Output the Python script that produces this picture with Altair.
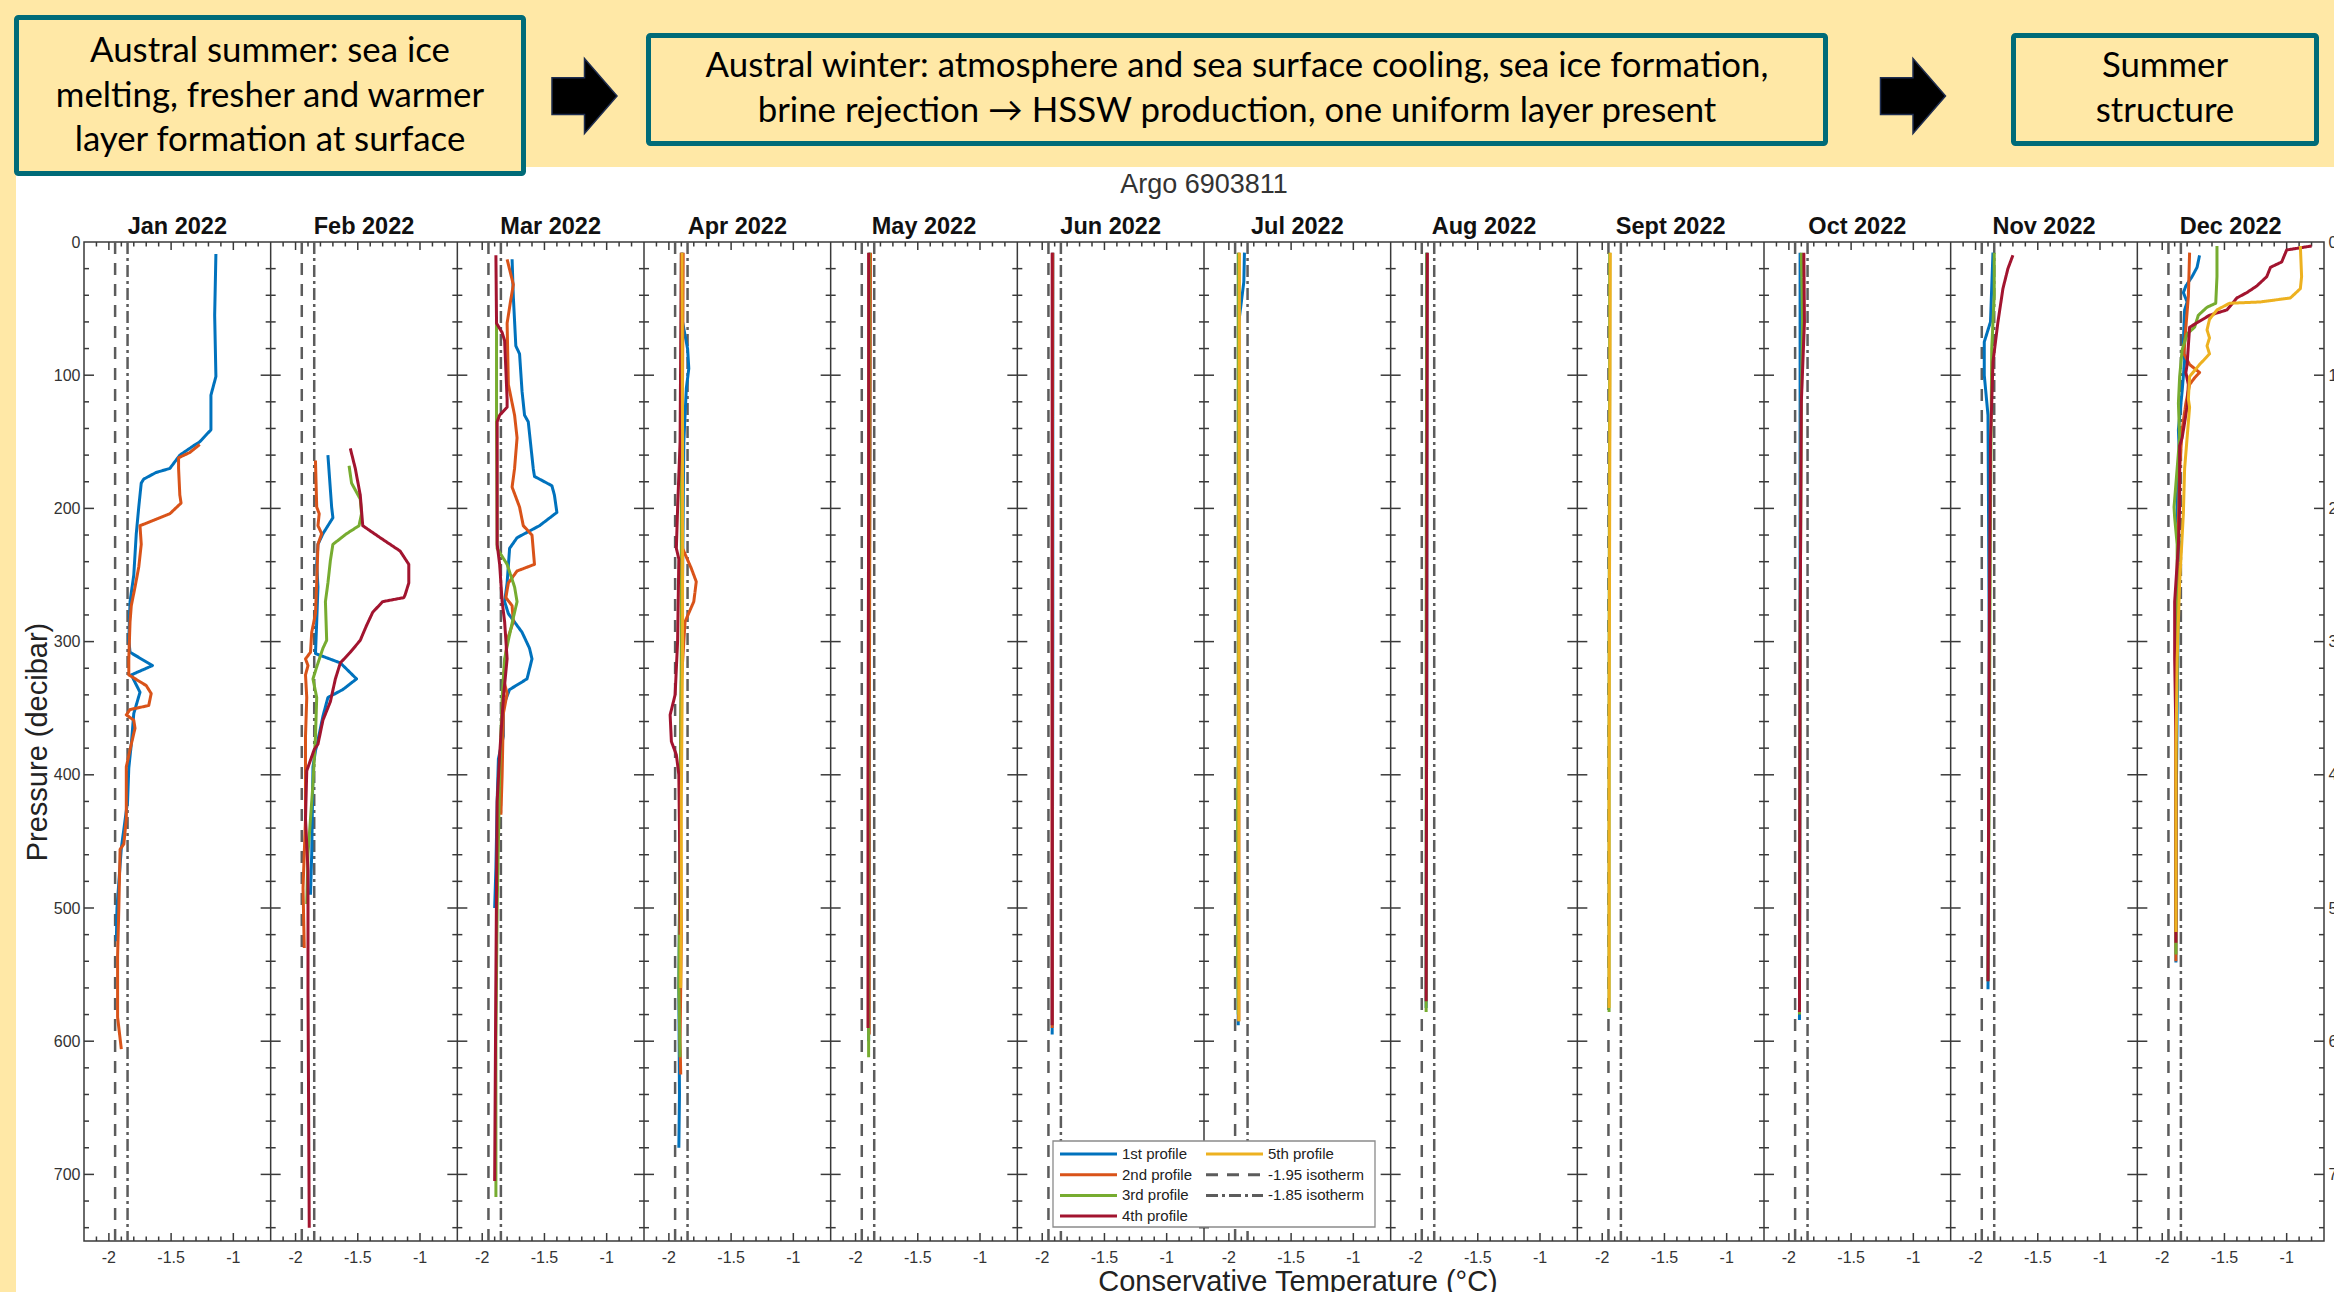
import altair as alt
import pandas as pd

# ---------------------------------------------------------------- data
MONTHS = ["Jan 2022", "Feb 2022", "Mar 2022", "Apr 2022", "May 2022", "Jun 2022",
          "Jul 2022", "Aug 2022", "Sept 2022", "Oct 2022", "Nov 2022", "Dec 2022"]
SERIES = ["1st profile", "2nd profile", "3rd profile", "4th profile", "5th profile",
          "-1.95 isotherm", "-1.85 isotherm"]
SERIES_COLORS = ["#0072BD", "#D95319", "#77AC30", "#A2142F", "#EDB120", "#5c5c5c", "#5c5c5c"]
SERIES_DASH = [[1, 0], [1, 0], [1, 0], [1, 0], [1, 0], [12, 9], [12, 4, 3, 4]]
ISOTHERM_T = [-1.95, -1.85]
T_RANGE = [-2.2, -0.7]
P_RANGE = [0, 750]
X_LABEL_T = [-2.0, -1.5, -1.0]
X_LABEL_TEXT = ["-2", "-1.5", "-1"]
X_MINOR_T = [-2.1, -1.9, -1.8, -1.7, -1.6, -1.4, -1.3, -1.2, -1.1, -0.9, -0.8]
Y_LABEL_P = [0, 100, 200, 300, 400, 500, 600, 700]
Y_MAJOR_P = [100, 200, 300, 400, 500, 600, 700]
Y_MINOR_P = [p for p in range(20, 750, 20) if p % 100 != 0]

# profiles: lists of (conservative temperature, pressure)
jan_1 = [(-1.14, 9), (-1.15, 55), (-1.14, 101), (-1.18, 115), (-1.18, 132), (-1.18, 141), (-1.27, 150),
         (-1.32, 153), (-1.43, 160), (-1.51, 170), (-1.62, 173), (-1.72, 178), (-1.74, 181), (-1.76, 199),
         (-1.78, 219), (-1.80, 250), (-1.83, 270), (-1.84, 299), (-1.83, 308), (-1.65, 318), (-1.82, 325),
         (-1.75, 338), (-1.80, 354), (-1.82, 377), (-1.84, 395), (-1.85, 420), (-1.90, 455), (-1.935, 500),
         (-1.94, 525)]
jan_2 = [(-1.27, 152), (-1.35, 158), (-1.44, 162), (-1.44, 170), (-1.43, 190), (-1.42, 196), (-1.51, 204),
         (-1.75, 213), (-1.74, 227), (-1.76, 244), (-1.79, 259), (-1.82, 273), (-1.83, 285), (-1.84, 313),
         (-1.84, 325), (-1.70, 333), (-1.66, 339), (-1.68, 348), (-1.83, 351), (-1.86, 355), (-1.80, 359),
         (-1.79, 365), (-1.82, 377), (-1.86, 394), (-1.86, 433), (-1.88, 452), (-1.91, 456), (-1.92, 500),
         (-1.93, 536), (-1.93, 582), (-1.90, 606)]
feb_1 = [(-1.74, 160), (-1.71, 199), (-1.70, 207), (-1.78, 219), (-1.82, 227), (-1.83, 242), (-1.82, 259),
         (-1.83, 285), (-1.84, 309), (-1.64, 316), (-1.51, 328), (-1.62, 336), (-1.74, 342), (-1.78, 356),
         (-1.82, 374), (-1.84, 382), (-1.86, 394), (-1.87, 459), (-1.88, 490)]
feb_2 = [(-1.84, 164), (-1.83, 199), (-1.81, 204), (-1.82, 213), (-1.79, 219), (-1.82, 227), (-1.83, 256),
         (-1.84, 279), (-1.87, 293), (-1.88, 308), (-1.92, 313), (-1.90, 318), (-1.92, 325), (-1.91, 342),
         (-1.92, 371), (-1.92, 389), (-1.92, 433), (-1.94, 485), (-1.93, 530)]
feb_3 = [(-1.57, 168), (-1.55, 181), (-1.48, 193), (-1.47, 204), (-1.49, 213), (-1.59, 219), (-1.70, 227),
         (-1.72, 239), (-1.74, 256), (-1.76, 270), (-1.75, 299), (-1.78, 305), (-1.83, 319), (-1.86, 328),
         (-1.83, 342), (-1.84, 371), (-1.86, 407), (-1.90, 459), (-1.91, 497)]
feb_4 = [(-1.56, 155), (-1.52, 170), (-1.48, 190), (-1.46, 213), (-1.32, 222), (-1.16, 232), (-1.09, 242),
         (-1.09, 256), (-1.12, 265), (-1.13, 267), (-1.30, 270), (-1.38, 278), (-1.43, 288), (-1.48, 299),
         (-1.56, 308), (-1.64, 316), (-1.68, 328), (-1.72, 345), (-1.78, 359), (-1.82, 377), (-1.85, 381),
         (-1.91, 397), (-1.92, 433), (-1.90, 472), (-1.90, 562), (-1.89, 740)]
mar_1 = [(-1.76, 13), (-1.75, 41), (-1.73, 78), (-1.70, 84), (-1.68, 112), (-1.66, 130), (-1.63, 135),
         (-1.59, 170), (-1.58, 176), (-1.44, 183), (-1.42, 190), (-1.40, 203), (-1.54, 213), (-1.72, 222),
         (-1.78, 230), (-1.80, 256), (-1.82, 270), (-1.79, 279), (-1.68, 293), (-1.62, 305), (-1.60, 313),
         (-1.64, 328), (-1.78, 336), (-1.83, 348), (-1.83, 371), (-1.87, 388), (-1.88, 420), (-1.89, 470),
         (-1.90, 500)]
mar_2 = [(-1.80, 13), (-1.75, 32), (-1.77, 43), (-1.80, 61), (-1.79, 107), (-1.74, 130), (-1.72, 147),
         (-1.74, 170), (-1.76, 184), (-1.70, 199), (-1.67, 213), (-1.60, 220), (-1.58, 242), (-1.72, 247),
         (-1.79, 256), (-1.81, 267), (-1.76, 273), (-1.75, 285), (-1.80, 299), (-1.83, 328), (-1.80, 339),
         (-1.83, 354), (-1.84, 400), (-1.85, 430)]
mar_3 = [(-1.885, 60), (-1.885, 135), (-1.88, 230), (-1.80, 242), (-1.74, 259), (-1.72, 270), (-1.75, 282),
         (-1.79, 299), (-1.82, 313), (-1.84, 342), (-1.86, 400), (-1.88, 500), (-1.89, 600), (-1.89, 717)]
mar_4 = [(-1.89, 10), (-1.885, 61), (-1.84, 68), (-1.82, 74), (-1.80, 118), (-1.80, 124), (-1.86, 130),
         (-1.88, 135), (-1.88, 227), (-1.86, 242), (-1.84, 270), (-1.82, 285), (-1.80, 313), (-1.83, 342),
         (-1.86, 385), (-1.88, 420), (-1.89, 550), (-1.90, 705)]
apr_1 = [(-1.89, 8), (-1.89, 60), (-1.85, 80), (-1.84, 95), (-1.86, 110), (-1.88, 150), (-1.89, 250),
         (-1.90, 350), (-1.91, 450), (-1.92, 560), (-1.915, 640), (-1.92, 680)]
apr_2 = [(-1.885, 8), (-1.89, 100), (-1.90, 180), (-1.89, 230), (-1.82, 245), (-1.78, 255), (-1.80, 270),
         (-1.87, 285), (-1.90, 330), (-1.91, 420), (-1.90, 520), (-1.91, 600), (-1.905, 625)]
apr_3 = [(-1.90, 8), (-1.90, 120), (-1.90, 300), (-1.91, 450), (-1.92, 560), (-1.91, 612)]
apr_4 = [(-1.90, 8), (-1.91, 150), (-1.93, 200), (-1.94, 230), (-1.92, 238), (-1.93, 300), (-1.95, 340),
         (-1.99, 355), (-1.98, 375), (-1.94, 385), (-1.92, 400), (-1.91, 480), (-1.91, 520)]
apr_5 = [(-1.895, 8), (-1.89, 150), (-1.89, 300), (-1.90, 420), (-1.90, 500), (-1.905, 560)]
may_1 = [(-1.885, 8), (-1.885, 150), (-1.89, 300), (-1.89, 450), (-1.895, 600)]
may_2 = [(-1.88, 8), (-1.885, 200), (-1.89, 400), (-1.89, 595)]
may_3 = [(-1.89, 8), (-1.895, 300), (-1.895, 612)]
may_4 = [(-1.895, 8), (-1.895, 200), (-1.90, 400), (-1.90, 590)]
jun_1 = [(-1.915, 8), (-1.915, 300), (-1.92, 595)]
jun_2 = [(-1.915, 8), (-1.92, 300), (-1.92, 590)]
jun_4 = [(-1.92, 8), (-1.92, 300), (-1.92, 588)]
jul_1 = [(-1.875, 8), (-1.88, 30), (-1.92, 60), (-1.92, 300), (-1.925, 588)]
jul_2 = [(-1.92, 8), (-1.92, 300), (-1.92, 585)]
jul_3 = [(-1.925, 8), (-1.925, 380), (-1.93, 420), (-1.93, 540), (-1.925, 580)]
jul_5 = [(-1.915, 8), (-1.92, 300), (-1.92, 585)]
aug_1 = [(-1.91, 8), (-1.91, 300), (-1.915, 575)]
aug_3 = [(-1.91, 8), (-1.915, 300), (-1.915, 578)]
aug_4 = [(-1.905, 8), (-1.91, 300), (-1.915, 570)]
sep_3 = [(-1.94, 8), (-1.94, 100), (-1.945, 300), (-1.945, 578)]
sep_5 = [(-1.935, 8), (-1.94, 200), (-1.945, 400), (-1.945, 575)]
oct_1 = [(-1.91, 8), (-1.91, 300), (-1.915, 584)]
oct_3 = [(-1.90, 8), (-1.89, 60), (-1.90, 120), (-1.91, 300), (-1.915, 580)]
oct_4 = [(-1.88, 8), (-1.875, 60), (-1.90, 120), (-1.91, 300), (-1.915, 578)]
nov_1 = [(-1.86, 8), (-1.88, 60), (-1.93, 75), (-1.93, 100), (-1.90, 130), (-1.89, 300), (-1.90, 561)]
nov_3 = [(-1.85, 8), (-1.85, 40), (-1.87, 80), (-1.88, 200), (-1.89, 400), (-1.90, 555)]
nov_4 = [(-1.70, 10), (-1.74, 20), (-1.78, 35), (-1.82, 60), (-1.86, 90), (-1.88, 150), (-1.89, 300),
         (-1.90, 555)]
dec_1 = [(-1.70, 10), (-1.72, 19), (-1.76, 26), (-1.81, 33), (-1.83, 38), (-1.80, 45), (-1.82, 51),
         (-1.83, 75), (-1.82, 89), (-1.84, 112), (-1.87, 141), (-1.86, 164), (-1.88, 193), (-1.88, 207),
         (-1.86, 227), (-1.87, 270), (-1.88, 350), (-1.89, 450), (-1.89, 541)]
dec_2 = [(-1.78, 8), (-1.79, 41), (-1.81, 64), (-1.825, 84), (-1.78, 92), (-1.70, 98), (-1.74, 102),
         (-1.78, 107), (-1.81, 121), (-1.84, 141), (-1.86, 170), (-1.87, 213), (-1.88, 256), (-1.89, 313),
         (-1.89, 450), (-1.89, 540)]
dec_3 = [(-1.56, 3), (-1.56, 26), (-1.57, 46), (-1.64, 49), (-1.71, 55), (-1.74, 64), (-1.80, 69),
         (-1.84, 81), (-1.86, 101), (-1.87, 121), (-1.86, 147), (-1.88, 170), (-1.905, 199), (-1.90, 207),
         (-1.88, 227), (-1.88, 300), (-1.89, 420), (-1.89, 535)]
dec_4 = [(-0.80, 3), (-1.00, 6), (-1.04, 15), (-1.13, 19), (-1.16, 26), (-1.24, 33), (-1.32, 38),
         (-1.40, 42), (-1.48, 51), (-1.62, 55), (-1.78, 64), (-1.79, 78), (-1.80, 92), (-1.81, 98),
         (-1.79, 107), (-1.80, 124), (-1.84, 147), (-1.86, 153), (-1.86, 199), (-1.87, 227), (-1.90, 270),
         (-1.90, 313), (-1.89, 371), (-1.89, 526)]
dec_5 = [(-0.89, 3), (-0.88, 26), (-0.89, 35), (-0.97, 42), (-1.21, 45), (-1.46, 46), (-1.56, 51),
         (-1.62, 58), (-1.64, 66), (-1.62, 72), (-1.64, 78), (-1.62, 84), (-1.70, 92), (-1.78, 101),
         (-1.79, 118), (-1.78, 124), (-1.82, 170), (-1.83, 204), (-1.86, 256), (-1.88, 313), (-1.89, 385),
         (-1.89, 518)]

PROFILE_TABLE = {
    "Jan 2022": {0: jan_1, 1: jan_2},
    "Feb 2022": {0: feb_1, 1: feb_2, 2: feb_3, 3: feb_4},
    "Mar 2022": {0: mar_1, 1: mar_2, 2: mar_3, 3: mar_4},
    "Apr 2022": {0: apr_1, 1: apr_2, 2: apr_3, 3: apr_4, 4: apr_5},
    "May 2022": {0: may_1, 1: may_2, 2: may_3, 3: may_4},
    "Jun 2022": {0: jun_1, 1: jun_2, 3: jun_4},
    "Jul 2022": {0: jul_1, 1: jul_2, 2: jul_3, 4: jul_5},
    "Aug 2022": {0: aug_1, 2: aug_3, 3: aug_4},
    "Sept 2022": {2: sep_3, 4: sep_5},
    "Oct 2022": {0: oct_1, 2: oct_3, 3: oct_4},
    "Nov 2022": {0: nov_1, 2: nov_3, 3: nov_4},
    "Dec 2022": {0: dec_1, 1: dec_2, 2: dec_3, 3: dec_4, 4: dec_5},
}

HEADER_BOXES = [
    ["Austral summer: sea ice", "melting, fresher and  warmer", "layer formation at surface"],
    ["Austral winter: atmosphere and sea surface cooling, sea ice formation,",
     "brine rejection \u2192 HSSW production, one uniform layer present"],
    ["Summer", "structure"],
]
CHART_TITLE = "Argo 6903811"
X_TITLE = "Conservative Temperature (\u00b0C)"
Y_TITLE = "Pressure (decibar)"

# ---------------------------------------------------------------- tables
SPAN = T_RANGE[1] - T_RANGE[0]
NP = len(MONTHS)

rows = []
for k, m in enumerate(MONTHS):
    for pi in sorted(PROFILE_TABLE[m]):
        for j, (t, p) in enumerate(PROFILE_TABLE[m][pi]):
            rows.append({"month": m, "k": k, "series": SERIES[pi], "T": t, "P": p, "j": j})
prof_df = pd.DataFrame(rows)

iso_df = pd.DataFrame([{"k": k, "T": t, "series": SERIES[5 + i]}
                       for k in range(NP) for i, t in enumerate(ISOTHERM_T)])
bound_df = pd.DataFrame({"k": list(range(1, NP))})
month_df = pd.DataFrame({"month": MONTHS, "k": list(range(NP))})
legend_df = pd.DataFrame({"series": SERIES, "idx": list(range(len(SERIES)))})
xlab_df = pd.DataFrame([{"k": k, "T": t, "label": s}
                        for k in range(NP) for t, s in zip(X_LABEL_T, X_LABEL_TEXT)])


def yticks(ks, ps):
    return pd.DataFrame([{"k": k, "P": p} for k in ks for p in ps])


def xticks(ts, p):
    return pd.DataFrame([{"k": k, "T": t, "P": p} for k in range(NP) for t in ts])


one = pd.DataFrame({"a": [0]})

xscale = alt.Scale(domain=[0, NP * SPAN], nice=False, zero=False)
yscale = alt.Scale(domain=P_RANGE, reverse=True, nice=False, zero=False)
color_scale = alt.Scale(domain=SERIES, range=SERIES_COLORS)
dash_scale = alt.Scale(domain=SERIES, range=SERIES_DASH)

G_EXPR = f"datum.k * {SPAN} + datum.T - ({T_RANGE[0]})"
B_EXPR = f"datum.k * {SPAN}"

AX = "#3a3a3a"
YEL = "#FFE8A6"
TEAL = "#006B78"
SANS = "Liberation Sans"

W, H = 2240, 999
PL, PT = 84, 242

layers = []

# ---- header decoration (outside plot area)
layers.append(alt.Chart(one).mark_rect(fill=YEL).encode(
    x=alt.value(-PL), x2=alt.value(2334 - PL), y=alt.value(-PT), y2=alt.value(167 - PT)))
layers.append(alt.Chart(one).mark_rect(fill=YEL).encode(
    x=alt.value(-PL), x2=alt.value(16 - PL), y=alt.value(167 - PT), y2=alt.value(1292 - PT)))

box_geo = [(16.5, 523.5, 17.5, 173.5), (648.5, 1825.5, 35.5, 143.5), (2013.5, 2316.5, 35.5, 143.5)]
for (x1, x2, y1, y2) in box_geo:
    layers.append(alt.Chart(one).mark_rect(fill=YEL, stroke=TEAL, strokeWidth=5, cornerRadius=2).encode(
        x=alt.value(x1 - PL), x2=alt.value(x2 - PL), y=alt.value(y1 - PT), y2=alt.value(y2 - PT)))

ARROW = "M -0.867 -0.49 L 0 -0.49 L 0 -1 L 0.867 0 L 0 1 L 0 0.49 L -0.867 0.49 Z"
for cx in [584.5, 1913]:
    layers.append(alt.Chart(one).mark_point(shape=ARROW, filled=True, fill="#000000", stroke="#1F2D4F",
                                            strokeWidth=1.5, size=5625, opacity=1).encode(
        x=alt.value(cx - PL), y=alt.value(96 - PT)))

text_geo = [(270, [52, 97, 141]), (1237, [67, 112]), (2165, [67, 112])]
for lines, (cx, ys) in zip(HEADER_BOXES, text_geo):
    for line, yy in zip(lines, ys):
        layers.append(alt.Chart(one).mark_text(text=line, font="Lato", fontSize=34.8, color="#000000",
                                               align="center", baseline="middle").encode(
            x=alt.value(cx - PL), y=alt.value(yy - PT)))

layers.append(alt.Chart(one).mark_text(text=CHART_TITLE, font=SANS, fontSize=27, color="#333333",
                                       align="center", baseline="middle").encode(
    x=alt.value(1204 - PL), y=alt.value(185 - PT)))

# ---- panel titles
layers.append(alt.Chart(month_df).transform_calculate(gc=f"datum.k * {SPAN} + {SPAN / 2}").mark_text(
    font=SANS, fontSize=23.5, fontWeight="bold", color="#111111", baseline="alphabetic").encode(
    x=alt.X("gc:Q", scale=xscale, axis=None), y=alt.value(-8), text="month:N"))

# ---- isotherms
layers.append(alt.Chart(iso_df).transform_calculate(g=G_EXPR).mark_rule(strokeWidth=2.5).encode(
    x=alt.X("g:Q", scale=xscale, axis=None),
    color=alt.Color("series:N", scale=color_scale, legend=None),
    strokeDash=alt.StrokeDash("series:N", scale=dash_scale, legend=None)))

# ---- panel boundaries
layers.append(alt.Chart(bound_df).transform_calculate(g=B_EXPR).mark_rule(color=AX, strokeWidth=1.5).encode(
    x=alt.X("g:Q", scale=xscale, axis=None)))

# ---- y ticks at boundaries
YMAJ, YMIN = 20, 10


def ytick_layer(ks, ps, size, xoff, axis=None):
    return alt.Chart(yticks(ks, ps)).transform_calculate(g=B_EXPR).mark_tick(
        orient="horizontal", size=size, thickness=1.5, color=AX, opacity=1, xOffset=xoff).encode(
        x=alt.X("g:Q", scale=xscale, axis=None),
        y=alt.Y("P:Q", scale=yscale, axis=axis))


layers.append(ytick_layer(list(range(1, NP)), Y_MAJOR_P, YMAJ, 0))
layers.append(ytick_layer(list(range(1, NP)), Y_MINOR_P, YMIN, 0))
layers.append(ytick_layer([0], Y_MAJOR_P, YMAJ / 2, YMAJ / 4))
layers.append(ytick_layer([0], Y_MINOR_P, YMIN / 2, YMIN / 4))
layers.append(ytick_layer([NP], Y_MAJOR_P, YMAJ / 2, -YMAJ / 4))
layers.append(ytick_layer([NP], Y_MINOR_P, YMIN / 2, -YMIN / 4, axis=alt.Axis(
    orient="right", values=Y_LABEL_P, ticks=False, domain=False, grid=False, labelFontSize=16,
    labelPadding=4, labelColor="#333333", labelFont=SANS, title=None, labelOverlap=False)))

# ---- x ticks top / bottom
XMAJ, XMIN = 8, 4.5


def xtick_layer(ts, p, size, yoff):
    return alt.Chart(xticks(ts, p)).transform_calculate(g=G_EXPR).mark_tick(
        orient="vertical", size=size, thickness=1.5, color=AX, opacity=1, yOffset=yoff).encode(
        x=alt.X("g:Q", scale=xscale, axis=None),
        y=alt.Y("P:Q", scale=yscale, axis=None))


layers.append(xtick_layer(X_LABEL_T, P_RANGE[0], XMAJ, XMAJ / 2))
layers.append(xtick_layer(X_MINOR_T, P_RANGE[0], XMIN, XMIN / 2))
layers.append(xtick_layer(X_LABEL_T, P_RANGE[1], XMAJ, -XMAJ / 2))
layers.append(xtick_layer(X_MINOR_T, P_RANGE[1], XMIN, -XMIN / 2))

# ---- x tick labels and x title (placed through the x scale)
layers.append(alt.Chart(xlab_df).transform_calculate(g=G_EXPR).mark_text(
    font=SANS, fontSize=16, color="#333333", align="center", baseline="middle").encode(
    x=alt.X("g:Q", scale=xscale, axis=None), y=alt.value(H + 17), text="label:N"))
layers.append(alt.Chart(one).mark_text(text=X_TITLE, font=SANS, fontSize=29, color="#222222",
                                       align="center", baseline="alphabetic").encode(
    x=alt.value(1298 - PL), y=alt.value(1291 - PT)))

# ---- profiles (carry the left y axis)
layers.append(alt.Chart(prof_df).transform_calculate(g=G_EXPR).mark_line(
    strokeWidth=3, strokeJoin="round").encode(
    x=alt.X("g:Q", scale=xscale, axis=None),
    y=alt.Y("P:Q", scale=yscale, axis=alt.Axis(
        orient="left", values=Y_LABEL_P, ticks=False, domain=False, grid=False, labelFontSize=16,
        labelPadding=4, labelOverlap=False, labelColor="#333333", labelFont=SANS,
        title=Y_TITLE, titleFont=SANS, titleFontSize=29, titleFontWeight="normal", titleColor="#222222",
        titleX=-47, titleY=H / 2, titleAngle=270, titleBaseline="middle", titleAlign="center")),
    color=alt.Color("series:N", scale=color_scale, legend=None),
    strokeDash=alt.StrokeDash("series:N", scale=dash_scale, legend=None),
    detail="month:N",
    order="j:Q"))

# ---- legend (drawn with the shared colour / dash scales)
LX, LY = 1053 - PL, 1141 - PT
layers.append(alt.Chart(one).mark_rect(fill="white", stroke="#8a8a8a", strokeWidth=1.3).encode(
    x=alt.value(LX), x2=alt.value(LX + 322), y=alt.value(LY), y2=alt.value(LY + 86)))
ROWX = f"{LX + 7} + floor(datum.idx / 4) * 146"
ROWY = f"{LY + 13} + (datum.idx % 4) * 20.7"
layers.append(alt.Chart(legend_df).mark_rule(strokeWidth=3).encode(
    x=alt.value({"expr": ROWX}), x2=alt.value({"expr": ROWX + " + 57"}), y=alt.value({"expr": ROWY}),
    color=alt.Color("series:N", scale=color_scale, legend=None),
    strokeDash=alt.StrokeDash("series:N", scale=dash_scale, legend=None)))
layers.append(alt.Chart(legend_df).mark_text(font=SANS, fontSize=15, color="#222222", align="left",
                                             baseline="middle").encode(
    x=alt.value({"expr": ROWX + " + 62"}), y=alt.value({"expr": ROWY}), text="series:N"))

chart = alt.layer(*layers).resolve_axis(y="independent").properties(
    width=W, height=H,
    autosize=alt.AutoSizeParams(type="none"),
    padding={"left": PL, "top": PT, "right": 2334 - PL - W, "bottom": 1292 - PT - H},
    background="white",
).configure_view(stroke=AX, strokeWidth=1.5, fill="white")

chart.save("out.html", embed_options={"renderer": "svg", "actions": False})
